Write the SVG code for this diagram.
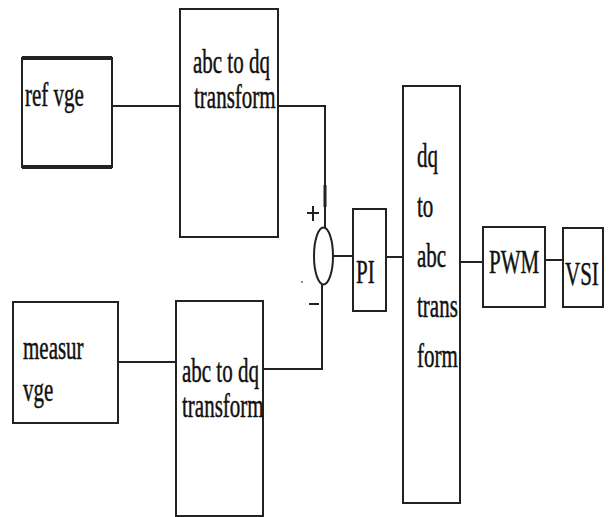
<svg xmlns="http://www.w3.org/2000/svg" width="610" height="517" viewBox="0 0 610 517">
<style>
.box{fill:#fff;stroke:#222;stroke-width:2}
.ln{fill:none;stroke:#222;stroke-width:2}
.t{font-family:"Liberation Serif","Times New Roman",serif;font-size:21px;fill:#111;stroke:#111;stroke-width:0.3}
</style>
<rect width="610" height="517" fill="#fff"/>
<g id="connectors">
<path class="ln" d="M112 106H179"/>
<path class="ln" d="M278 106H325V228"/>
<path class="ln" d="M325 185V207" style="stroke-width:3"/>
<path class="ln" d="M118 362H176"/>
<path class="ln" d="M263 369H322V285"/>
<path class="ln" d="M333 256H353"/>
<path class="ln" d="M386 257H403"/>
<path class="ln" d="M460 262H483"/>
<path class="ln" d="M545 260H563"/>
</g>
<g id="ref_vge">
<rect class="box" x="22" y="58" width="90" height="109"/>
<path class="ln" d="M22 58H112M22 167H112" style="stroke-width:4"/>
<text class="t" transform="translate(25,106) scale(1,1.6)">ref vge</text>
</g>
<g id="abc_dq_top">
<rect class="box" x="180" y="9" width="98" height="228"/>
<text class="t" transform="translate(193,73) scale(1,1.6)">abc to dq</text>
<text class="t" transform="translate(194,108) scale(1,1.6)">transform</text>
</g>
<g id="measur_vge">
<rect class="box" x="13" y="302" width="105" height="121"/>
<text class="t" transform="translate(23,359) scale(1,1.6)">measur</text>
<text class="t" transform="translate(23,401) scale(1,1.6)">vge</text>
</g>
<g id="abc_dq_bottom">
<rect class="box" x="176" y="301" width="87" height="215"/>
<text class="t" transform="translate(182,382) scale(1,1.6)">abc to dq</text>
<text class="t" transform="translate(182,417) scale(1,1.6)">transform</text>
</g>
<g id="sum">
<ellipse cx="323.5" cy="256" rx="9.5" ry="28.5" fill="none" stroke="#222" stroke-width="2"/>
<path class="ln" d="M307 213H319M313 206V221"/>
<path class="ln" d="M309 304H319"/>
<circle cx="302" cy="282" r="0.9" fill="#555"/>
</g>
<g id="pi">
<rect class="box" x="353" y="209" width="33" height="102"/>
<text class="t" transform="translate(356,283) scale(1,1.6)">PI</text>
</g>
<g id="dq_abc">
<rect class="box" x="403" y="86" width="57" height="417"/>
<text class="t" transform="translate(417,167) scale(1,1.6)">dq</text>
<text class="t" transform="translate(417,217) scale(1,1.6)">to</text>
<text class="t" transform="translate(417,267) scale(1,1.6)">abc</text>
<text class="t" transform="translate(417,317) scale(1,1.6)">trans</text>
<text class="t" transform="translate(417,367) scale(1,1.6)">form</text>
</g>
<g id="pwm">
<rect class="box" x="483" y="227" width="62" height="80"/>
<text class="t" transform="translate(489,273) scale(1,1.6)">PWM</text>
</g>
<g id="vsi">
<rect class="box" x="563" y="228" width="40" height="79"/>
<text class="t" transform="translate(565,285) scale(1,1.6)">VSI</text>
</g>
</svg>
